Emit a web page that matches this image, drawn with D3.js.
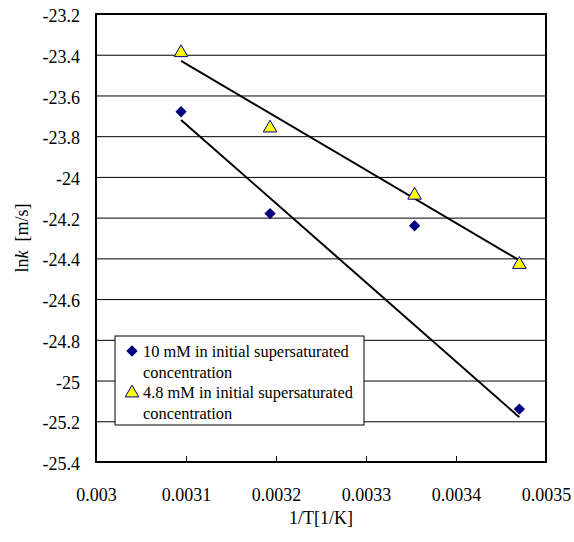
<!DOCTYPE html>
<html>
<head>
<meta charset="utf-8">
<script src="https://cdn.jsdelivr.net/npm/d3@7"></script>
<style>
  body { margin: 0; background: #fff; }
</style>
</head>
<body>
<div id="vis1"></div>
<script>
// setting constants
const FRAME_WIDTH = 574;
const FRAME_HEIGHT = 542;
const MARGINS = {left: 96, right: 28, top: 14, bottom: 80};
const FONT = "'Liberation Serif', 'Times New Roman', 'DejaVu Serif', serif";

// data: 1/T and ln k
const invT = [0.0030945, 0.0031934, 0.003354, 0.0034704];
const lnk10mM = [-23.68, -24.18, -24.24, -25.14];
const lnk48mM = [-23.39, -23.76, -24.09, -24.43];

// trend line end points
const fitX = [0.0030945, 0.0034704];
const fit10mM = [-23.72, -25.18];
const fit48mM = [-23.43, -24.41];

// tick values and labels
const xTicks = [0.003, 0.0031, 0.0032, 0.0033, 0.0034, 0.0035];
const xLabels = ["0.003", "0.0031", "0.0032", "0.0033", "0.0034", "0.0035"];
const yTicks = [-23.2, -23.4, -23.6, -23.8, -24, -24.2, -24.4, -24.6, -24.8, -25, -25.2, -25.4];
const yLabels = ["-23.2", "-23.4", "-23.6", "-23.8", "-24", "-24.2", "-24.4", "-24.6", "-24.8", "-25", "-25.2", "-25.4"];

const legendLabels = [
  ["10 mM in initial supersaturated", "concentration"],
  ["4.8 mM in initial supersaturated", "concentration"]
];

const VIS_WIDTH = FRAME_WIDTH - MARGINS.left - MARGINS.right;
const VIS_HEIGHT = FRAME_HEIGHT - MARGINS.top - MARGINS.bottom;

const FRAME = d3.select("#vis1")
  .append("svg")
  .attr("width", FRAME_WIDTH)
  .attr("height", FRAME_HEIGHT)
  .attr("font-family", FONT);

const X_SCALE = d3.scaleLinear()
  .domain([0.003, 0.0035])
  .range([MARGINS.left, MARGINS.left + VIS_WIDTH]);

const Y_SCALE = d3.scaleLinear()
  .domain([-25.4, -23.2])
  .range([MARGINS.top + VIS_HEIGHT, MARGINS.top]);

// horizontal grid lines
FRAME.append("g")
  .attr("transform", "translate(" + MARGINS.left + ",0)")
  .call(d3.axisLeft(Y_SCALE).tickValues(yTicks).tickSize(-VIS_WIDTH).tickFormat(""))
  .call(g => g.select(".domain").remove())
  .call(g => g.selectAll(".tick line").attr("stroke", "#000").attr("stroke-width", 1));

// y tick labels
FRAME.append("g")
  .attr("transform", "translate(" + (MARGINS.left - 16) + ",0)")
  .call(d3.axisLeft(Y_SCALE).tickValues(yTicks).tickSize(0).tickPadding(0)
    .tickFormat((d, i) => yLabels[i]))
  .attr("font-family", FONT)
  .attr("font-size", 18)
  .call(g => g.select(".domain").remove())
  .call(g => g.selectAll(".tick text").attr("dy", "0.42em").attr("fill", "#000"));

// x axis with inward ticks
FRAME.append("g")
  .attr("transform", "translate(0," + (MARGINS.top + VIS_HEIGHT) + ")")
  .call(d3.axisBottom(X_SCALE).tickValues(xTicks).tickSize(-6).tickPadding(26)
    .tickFormat((d, i) => xLabels[i]))
  .attr("font-family", FONT)
  .attr("font-size", 18)
  .call(g => g.select(".domain").remove())
  .call(g => g.selectAll(".tick line").attr("stroke", "#000"))
  .call(g => g.selectAll(".tick text").attr("fill", "#000"));

// plot frame
FRAME.append("rect")
  .attr("x", MARGINS.left)
  .attr("y", MARGINS.top)
  .attr("width", VIS_WIDTH)
  .attr("height", VIS_HEIGHT)
  .attr("fill", "none")
  .attr("stroke", "#000")
  .attr("stroke-width", 2);

// trend lines
const line = d3.line()
  .x(d => X_SCALE(d[0]))
  .y(d => Y_SCALE(d[1]));

[fit10mM, fit48mM].forEach(fit => {
  FRAME.append("path")
    .datum(fitX.map((x, i) => [x, fit[i]]))
    .attr("d", line)
    .attr("fill", "none")
    .attr("stroke", "#000")
    .attr("stroke-width", 2);
});

// markers
const diamond = d3.symbol().type(d3.symbolSquare).size(64);
const triangle = d3.symbol().type(d3.symbolTriangle).size(80);

FRAME.selectAll(".dia")
  .data(invT.map((x, i) => [x, lnk10mM[i]]))
  .enter()
  .append("path")
    .attr("d", diamond)
    .attr("transform", d => "translate(" + X_SCALE(d[0]) + "," + Y_SCALE(d[1]) + ") rotate(45)")
    .attr("fill", "#000080");

FRAME.selectAll(".tri")
  .data(invT.map((x, i) => [x, lnk48mM[i]]))
  .enter()
  .append("path")
    .attr("d", triangle)
    .attr("transform", d => "translate(" + X_SCALE(d[0]) + "," + Y_SCALE(d[1]) + ")")
    .attr("fill", "#ffff00")
    .attr("stroke", "#000080")
    .attr("stroke-width", 1);

// legend
const LEG = FRAME.append("g").attr("transform", "translate(115,336)");
LEG.append("rect")
  .attr("width", 249)
  .attr("height", 89)
  .attr("fill", "#fff")
  .attr("stroke", "#000")
  .attr("stroke-width", 1);

legendLabels.forEach((lines, i) => {
  const y0 = 15 + i * 41;
  if (i === 0) {
    LEG.append("path").attr("d", diamond)
      .attr("transform", "translate(17," + y0 + ") rotate(45)")
      .attr("fill", "#000080");
  } else {
    LEG.append("path").attr("d", triangle)
      .attr("transform", "translate(17," + (y0 + 1) + ")")
      .attr("fill", "#ffff00")
      .attr("stroke", "#000080");
  }
  lines.forEach((t, j) => {
    LEG.append("text")
      .attr("x", 28)
      .attr("y", y0 + 6 + j * 21)
      .attr("font-family", FONT)
      .attr("font-size", 16.4)
      .text(t);
  });
});

// axis titles
FRAME.append("text")
  .attr("x", MARGINS.left + VIS_WIDTH / 2)
  .attr("y", 524)
  .attr("text-anchor", "middle")
  .attr("font-family", FONT)
  .attr("font-size", 18)
  .text("1/T[1/K]");

const yTitle = FRAME.append("text")
  .attr("transform", "translate(28," + (MARGINS.top + VIS_HEIGHT / 2) + ") rotate(-90)")
  .attr("text-anchor", "middle")
  .attr("font-family", FONT)
  .attr("font-size", 18);
yTitle.append("tspan").text("ln");
yTitle.append("tspan").attr("font-style", "italic").text("k");
yTitle.append("tspan").text("\u00a0\u00a0[m/s]");
</script>
</body>
</html>
